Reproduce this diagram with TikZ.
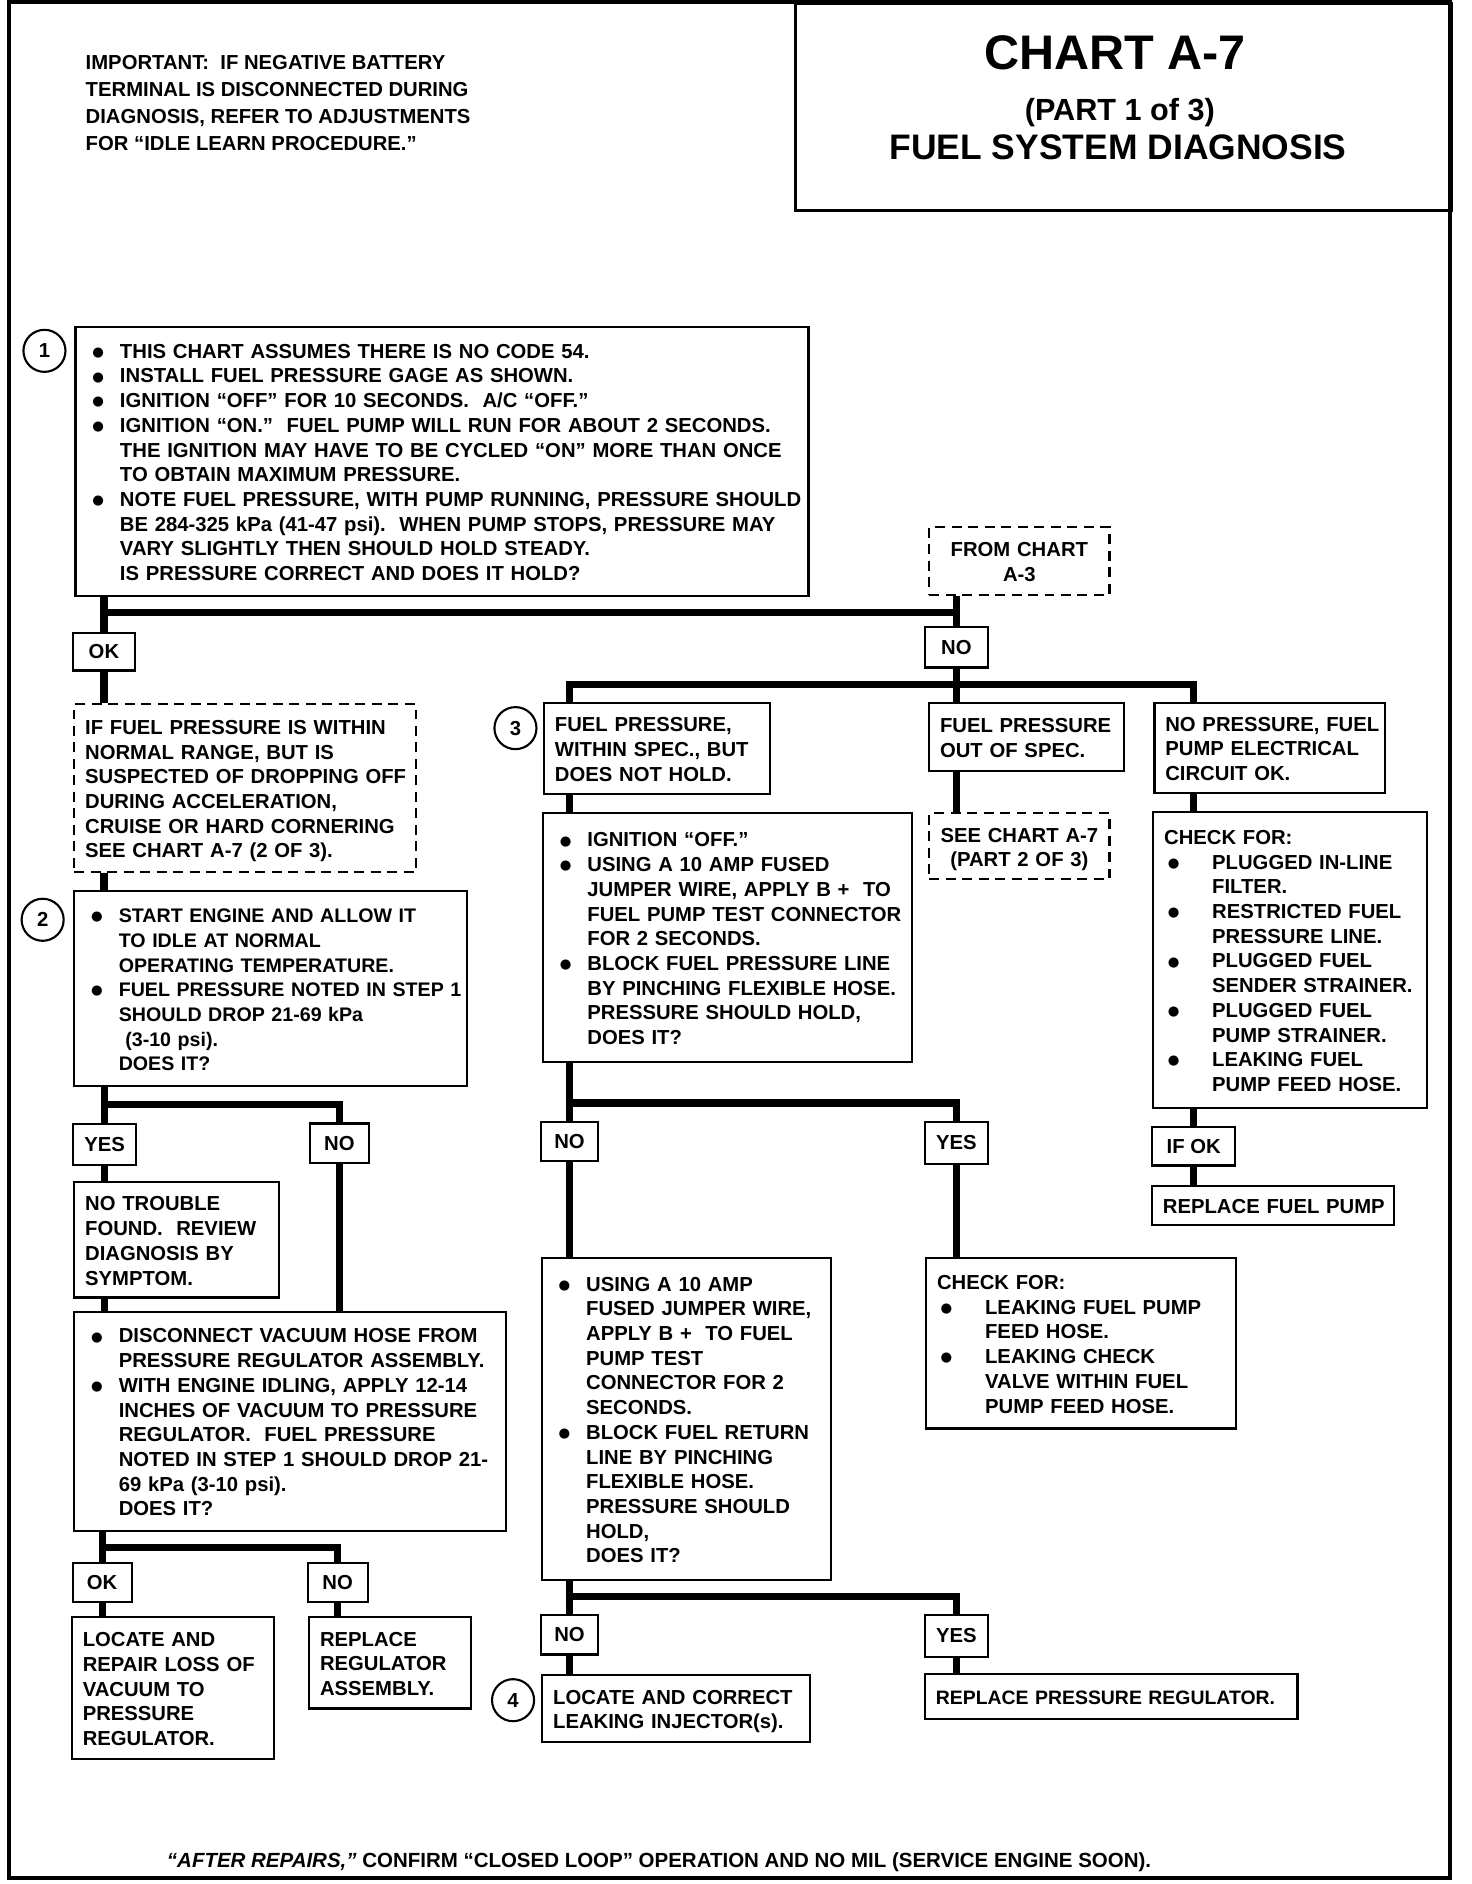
\documentclass[tikz,border=0pt]{standalone}
\usepackage{fontspec}
\setmainfont{Liberation Sans}
\newfontfamily\dotfont{DejaVu Sans}
\setlength{\parindent}{0pt}
\newcommand{\bodyfont}{\fontsize{9.6}{11.7}\selectfont\bfseries}
\newcommand{\dotmark}{\raisebox{0.9pt}{\dotfont\fontsize{6.3}{6.3}\selectfont ●}}
\newcommand{\bl}{\hspace*{0.1cm}\makebox[0.46cm][l]{\dotmark}}
\newcommand{\ct}{\hspace*{0.56cm}}
\newcommand{\blw}{\hspace*{0.06cm}\makebox[0.74cm][l]{\dotmark}}
\newcommand{\ctw}{\hspace*{0.8cm}}
\newcommand{\boxrows}[1]{\raisebox{-1.5pt}[\height][\depth]{\begin{tabular}{@{}l@{}}#1\end{tabular}}}
\newcommand{\centrows}[1]{\raisebox{-1.5pt}[\height][\depth]{\begin{tabular}{@{}c@{}}#1\end{tabular}}}

\begin{document}
\begin{tikzpicture}[x=0.02cm,y=-0.02cm,
  stepbox/.style={draw, line width=1pt, anchor=north west, align=left, inner xsep=0.18cm, inner ysep=0pt, font=\bodyfont},
  notebox/.style={stepbox, dash pattern=on 4.7pt off 3.1pt},
  boxsize/.style 2 args={text width=#1*0.02cm-0.36cm, minimum height=#2*0.02cm},
  tagbox/.style={draw, line width=1pt, inner sep=0pt, font=\bodyfont},
  tagsize/.style 2 args={minimum width=#1*0.02cm, minimum height=#2*0.02cm},
  stepnum/.style={draw, circle, line width=1pt, minimum size=0.7cm, inner sep=0pt, font=\bodyfont},
  conn/.style={line width=0.12cm}]
\useasboundingbox (0,0) rectangle (1225,1568);
% page frame and title
\draw[line width=1.9pt] (7.5,2) rectangle (1207,1563);
\node[draw, line width=1.2pt, anchor=north west, inner sep=0pt, minimum width=546*0.02cm, minimum height=172*0.02cm] (titlebox) at (661,2) {};
\node[anchor=base, font=\fontsize{23}{26}\selectfont\bfseries] (chartno) at (928,58) {CHART A-7};
\node[anchor=base, font=\fontsize{14.5}{16}\selectfont\bfseries] (partno) at (932,100.5) {(PART 1 of 3)};
\node[anchor=base, font=\fontsize{16.8}{19}\selectfont\bfseries] (chartname) at (930.5,132.6) {FUEL SYSTEM DIAGNOSIS};
\node[anchor=base west, inner sep=0pt, font=\fontsize{9.6}{12.8}\selectfont\bfseries] (important) at (71,58)
  {\begin{tabular}[t]{@{}l@{}}IMPORTANT:\ \ IF NEGATIVE BATTERY\\ TERMINAL IS DISCONNECTED DURING\\ DIAGNOSIS, REFER TO ADJUSTMENTS\\ FOR ``IDLE LEARN PROCEDURE.''\end{tabular}};

% step 1
\node[stepnum] (c1) at (37,292) {1};
\node[stepbox, boxsize={610}{224}] (step1) at (62,271) {\boxrows{%
  \bl THIS CHART ASSUMES THERE IS NO CODE 54.\\
  \bl INSTALL FUEL PRESSURE GAGE AS SHOWN.\\
  \bl IGNITION ``OFF'' FOR 10 SECONDS.\ \ A/C ``OFF.''\\
  \bl IGNITION ``ON.''\ \ FUEL PUMP WILL RUN FOR ABOUT 2 SECONDS.\\
  \ct THE IGNITION MAY HAVE TO BE CYCLED ``ON'' MORE THAN ONCE\\
  \ct TO OBTAIN MAXIMUM PRESSURE.\\
  \bl NOTE FUEL PRESSURE, WITH PUMP RUNNING, PRESSURE SHOULD\\
  \ct BE 284-325 kPa (41-47 psi).\ \ WHEN PUMP STOPS, PRESSURE MAY\\
  \ct VARY SLIGHTLY THEN SHOULD HOLD STEADY.\\
  \ct IS PRESSURE CORRECT AND DOES IT HOLD?}};
\node[notebox, align=center, boxsize={150}{56}] (fromthree) at (772.5,438) {\centrows{FROM CHART\\ A-3}};
\node[tagbox, tagsize={51}{31}] (ok1) at (86.5,542.5) {OK};
\node[tagbox, tagsize={53}{34}] (no1) at (796,538.5) {NO};

% left column
\node[notebox, boxsize={284}{140}] (normal) at (61,585) {\boxrows{%
  IF FUEL PRESSURE IS WITHIN\\ NORMAL RANGE, BUT IS\\ SUSPECTED OF DROPPING OFF\\
  DURING ACCELERATION,\\ CRUISE OR HARD CORNERING\\ SEE CHART A-7 (2 OF 3).}};
\node[stepnum] (c2) at (35.5,765.5) {2};
\node[stepbox, boxsize={327}{162}, font=\fontsize{9.3}{11.7}\selectfont\bfseries] (step2) at (61,741) {\boxrows{%
  \bl START ENGINE AND ALLOW IT\\ \ct TO IDLE AT NORMAL\\ \ct OPERATING TEMPERATURE.\\
  \bl FUEL PRESSURE NOTED IN STEP 1\\ \ct SHOULD DROP 21-69 kPa\\ \ct\ (3-10 psi).\\ \ct DOES IT?}};
\node[tagbox, tagsize={52}{34}] (yes2) at (87,952.5) {YES};
\node[tagbox, tagsize={49}{33}] (no2) at (282.5,951.5) {NO};
\node[stepbox, boxsize={170}{96}] (notrouble) at (61,983) {\boxrows{%
  NO TROUBLE\\ FOUND.\ \ REVIEW\\ DIAGNOSIS BY\\ SYMPTOM.}};
\node[stepbox, boxsize={359}{182}] (vacuum) at (61,1091) {\boxrows{%
  \bl DISCONNECT VACUUM HOSE FROM\\ \ct PRESSURE REGULATOR ASSEMBLY.\\
  \bl WITH ENGINE IDLING, APPLY 12-14\\ \ct INCHES OF VACUUM TO PRESSURE\\
  \ct REGULATOR.\ \ FUEL PRESSURE\\ \ct NOTED IN STEP 1 SHOULD DROP 21-\\
  \ct 69 kPa (3-10 psi).\\ \ct DOES IT?}};
\node[tagbox, tagsize={49}{32}] (ok3) at (85,1317) {OK};
\node[tagbox, tagsize={50}{32}] (no3) at (281,1317) {NO};
\node[stepbox, boxsize={168}{118}] (repairvac) at (59,1345) {\boxrows{%
  LOCATE AND\\ REPAIR LOSS OF\\ VACUUM TO\\ PRESSURE\\ REGULATOR.}};
\node[stepbox, boxsize={134.5}{76}] (replreg) at (256.5,1345) {\boxrows{%
  REPLACE\\ REGULATOR\\ ASSEMBLY.}};

% middle and right columns
\node[stepnum] (c3) at (429,606) {3};
\node[stepbox, boxsize={188}{76}] (holdspec) at (452,584) {\boxrows{%
  FUEL PRESSURE,\\ WITHIN SPEC., BUT\\ DOES NOT HOLD.}};
\node[stepbox, boxsize={162}{57}] (outspec) at (772.5,584) {\boxrows{%
  FUEL PRESSURE\\ OUT OF SPEC.}};
\node[stepbox, boxsize={192}{75}] (nopress) at (960,584) {\boxrows{%
  NO PRESSURE, FUEL\\ PUMP ELECTRICAL\\ CIRCUIT OK.}};
\node[stepbox, boxsize={307}{207}] (step3) at (451,676) {\boxrows{%
  \bl IGNITION ``OFF.''\\ \bl USING A 10 AMP FUSED\\ \ct JUMPER WIRE, APPLY B +\ \ TO\\
  \ct FUEL PUMP TEST CONNECTOR\\ \ct FOR 2 SECONDS.\\ \bl BLOCK FUEL PRESSURE LINE\\
  \ct BY PINCHING FLEXIBLE HOSE.\\ \ct PRESSURE SHOULD HOLD,\\ \ct DOES IT?}};
\node[notebox, align=center, boxsize={150}{55}] (seepart2) at (772.5,676) {\centrows{SEE CHART A-7\\ (PART 2 OF 3)}};
\node[stepbox, boxsize={228}{246}] (checkfor1) at (959,675) {\boxrows{%
  CHECK FOR:\\ \blw PLUGGED IN-LINE\\ \ctw FILTER.\\ \blw RESTRICTED FUEL\\ \ctw PRESSURE LINE.\\
  \blw PLUGGED FUEL\\ \ctw SENDER STRAINER.\\ \blw PLUGGED FUEL\\ \ctw PUMP STRAINER.\\
  \blw LEAKING FUEL\\ \ctw PUMP FEED HOSE.}};
\node[tagbox, tagsize={69}{32}] (ifok) at (993.5,954) {IF OK};
\node[stepbox, boxsize={201}{33}] (replpump) at (958,986) {\boxrows{REPLACE FUEL PUMP}};
\node[tagbox, tagsize={48}{32}] (no4) at (474,950) {NO};
\node[tagbox, tagsize={53}{35}] (yes4) at (796,951) {YES};
\node[stepbox, boxsize={241}{268}] (step4) at (450,1046) {\boxrows{%
  \bl USING A 10 AMP\\ \ct FUSED JUMPER WIRE,\\ \ct APPLY B +\ \ TO FUEL\\ \ct PUMP TEST\\
  \ct CONNECTOR FOR 2\\ \ct SECONDS.\\ \bl BLOCK FUEL RETURN\\ \ct LINE BY PINCHING\\
  \ct FLEXIBLE HOSE.\\ \ct PRESSURE SHOULD\\ \ct HOLD,\\ \ct DOES IT?}};
\node[stepbox, boxsize={258}{142}] (checkfor2) at (770,1046) {\boxrows{%
  CHECK FOR:\\ \blw LEAKING FUEL PUMP\\ \ctw FEED HOSE.\\ \blw LEAKING CHECK\\
  \ctw VALVE WITHIN FUEL\\ \ctw PUMP FEED HOSE.}};
\node[tagbox, tagsize={48}{33}] (no5) at (474,1360.5) {NO};
\node[tagbox, tagsize={53}{35}] (yes5) at (796,1361.5) {YES};
\node[stepnum] (c4) at (427,1415) {4};
\node[stepbox, boxsize={222.5}{56}] (injector) at (450.5,1393) {\boxrows{%
  LOCATE AND CORRECT\\ LEAKING INJECTOR(s).}};
\node[stepbox, boxsize={310}{37}, font=\fontsize{9.2}{11.7}\selectfont\bfseries] (replpreg) at (769,1392.5) {\boxrows{REPLACE PRESSURE REGULATOR.}};

\node[anchor=base, font=\fontsize{9.7}{11}\selectfont\bfseries] (footer) at (548.5,1554.5)
  {\textit{``AFTER REPAIRS,''} CONFIRM ``CLOSED LOOP'' OPERATION AND NO MIL (SERVICE ENGINE SOON).};

% junctions
\coordinate (bar1) at (86,510);
\coordinate (bar2) at (86,919);
\coordinate (bar3) at (86,1288);
\coordinate (bar4) at (796,570);
\coordinate (bar5) at (474,918);
\coordinate (bar6) at (474,1329);

% connectors, left
\draw[conn] (step1.south -| ok1) -- (ok1.north);
\draw[conn] (bar1 -| ok1) -- (bar1 -| no1);
\draw[conn] (fromthree.south -| no1) -- (no1.north);
\draw[conn] (ok1.south) -- (normal.north -| ok1);
\draw[conn] (normal.south -| ok1) -- (step2.north -| ok1);
\draw[conn] (step2.south -| yes2) -- (yes2.north);
\draw[conn] (bar2 -| yes2) -| (no2.north);
\draw[conn] (yes2.south) -- (notrouble.north -| yes2);
\draw[conn] (notrouble.south -| yes2) -- (vacuum.north -| yes2);
\draw[conn] (no2.south) -- (vacuum.north -| no2);
\draw[conn] (vacuum.south -| ok3) -- (ok3.north);
\draw[conn] (bar3 -| ok3) -| (no3.north);
\draw[conn] (ok3.south) -- (repairvac.north -| ok3);
\draw[conn] (no3.south) -- (replreg.north -| no3);
% connectors, middle and right
\draw[conn] (no1.south) -- (outspec.north -| no1);
\draw[conn] (holdspec.north -| no4) |- (bar4) -| (nopress.north -| ifok);
\draw[conn] (holdspec.south -| no4) -- (step3.north -| no4);
\draw[conn] (outspec.south -| no1) -- (seepart2.north -| no1);
\draw[conn] (nopress.south -| ifok) -- (checkfor1.north -| ifok);
\draw[conn] (checkfor1.south -| ifok) -- (ifok.north);
\draw[conn] (ifok.south) -- (replpump.north -| ifok);
\draw[conn] (step3.south -| no4) -- (no4.north);
\draw[conn] (bar5 -| no4) -| (yes4.north);
\draw[conn] (no4.south) -- (step4.north -| no4);
\draw[conn] (yes4.south) -- (checkfor2.north -| yes4);
\draw[conn] (step4.south -| no5) -- (no5.north);
\draw[conn] (bar6 -| no5) -| (yes5.north);
\draw[conn] (no5.south) -- (injector.north -| no5);
\draw[conn] (yes5.south) -- (replpreg.north -| yes5);
\end{tikzpicture}
\end{document}
